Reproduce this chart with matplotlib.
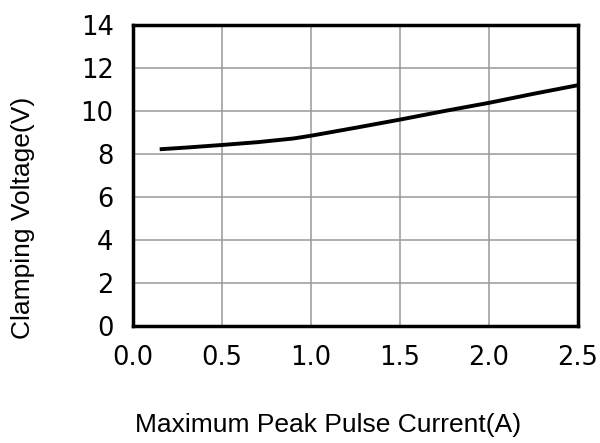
import matplotlib.pyplot as plt

# Clamping voltage vs peak pulse current
current = [0.15, 0.3, 0.5, 0.7, 0.9, 1.0, 1.25, 1.5, 1.75, 2.0, 2.25, 2.5]
voltage = [8.22, 8.3, 8.42, 8.55, 8.72, 8.85, 9.22, 9.6, 10.0, 10.38, 10.8, 11.2]
xticks = [0.0, 0.5, 1.0, 1.5, 2.0, 2.5]
yticks = [0, 2, 4, 6, 8, 10, 12, 14]

fig = plt.figure(figsize=(6, 4.43), dpi=100)
ax = fig.add_axes([133 / 600, 1 - 326 / 443, 445 / 600, 301 / 443])

ax.plot(current, voltage, color="black", linewidth=2.8, solid_capstyle="butt")

ax.set_xlim(0, 2.5)
ax.set_ylim(0, 14)
ax.set_xticks(xticks)
ax.set_yticks(yticks)
ax.set_xticklabels(["%.1f" % t for t in xticks])
ax.set_yticklabels([str(t) for t in yticks])
ax.grid(True, color="#999999", linewidth=1.1)
ax.set_axisbelow(True)
ax.tick_params(axis="x", length=0, labelsize=18.5, pad=14)
ax.tick_params(axis="y", length=0, labelsize=18.5, pad=14)
for lab in ax.get_xticklabels() + ax.get_yticklabels():
    lab.set_fontfamily("DejaVu Sans")
for s in ax.spines.values():
    s.set_linewidth(2.5)
    s.set_color("black")

# axis titles sit off-centre in the original, so place them by hand
fig.text(328 / 600, 1 - 425 / 443, "Maximum Peak Pulse Current(A)", fontsize=19,
         fontfamily="Liberation Sans", ha="center", va="center")
fig.text(23 / 600, 1 - 218 / 443, "Clamping Voltage(V)", fontsize=19,
         fontfamily="Liberation Sans", ha="center", va="center", rotation=90)

fig.savefig("out.png", dpi=100)
